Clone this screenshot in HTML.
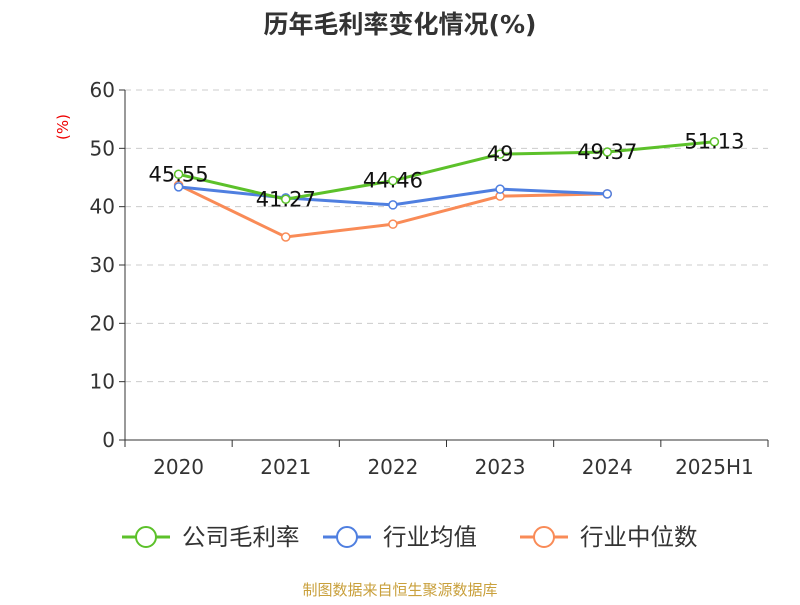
<!DOCTYPE html>
<html><head><meta charset="utf-8">
<style>
body{margin:0;background:#fff;font-family:"Liberation Sans","Noto Sans CJK SC",sans-serif;}
svg text{font-family:"DejaVu Sans","Noto Sans CJK SC",sans-serif;}
</style></head>
<body>
<svg id="chart" width="800" height="600">
<text x="400" y="33" text-anchor="middle" font-size="25" font-weight="bold" fill="#333">历年毛利率变化情况(%)</text>
<text transform="translate(68,127) rotate(-90)" text-anchor="middle" font-size="15" fill="#e00">(%)</text>
<g id="grid"></g>
<g id="axes"></g>
<g id="series"></g>
<g id="labels"></g>
<g id="legend"></g>
<text x="400" y="595" text-anchor="middle" font-size="15" fill="#c9a03c" style="font-family:'Noto Sans CJK SC',sans-serif">制图数据来自恒生聚源数据库</text>
</svg>
<script>
const categories=["2020","2021","2022","2023","2024","2025H1"];
const grossMargin=[45.55,41.27,44.46,49,49.37,51.13];
const industryAvg=[43.4,41.5,40.3,43.0,42.2,null];
const industryMedian=[43.7,34.8,37.0,41.8,42.2,null];
const yTicks=[0,10,20,30,40,50,60];
const seriesNames=["公司毛利率","行业均值","行业中位数"];
const colors=["#5cc12a","#4f7fe0","#f98b57"];

const NS="http://www.w3.org/2000/svg";
const L=125,R=768,T=90,B=440,yMax=60;
const bw=(R-L)/categories.length;
const xs=i=>L+bw*(i+0.5);
const ys=v=>B-(v/yMax)*(B-T);
function mk(tag,attrs,parent,text){const e=document.createElementNS(NS,tag);for(const k in attrs)e.setAttribute(k,attrs[k]);if(text!==undefined)e.textContent=text;parent.appendChild(e);return e;}
const grid=document.getElementById('grid'),axes=document.getElementById('axes'),ser=document.getElementById('series'),lab=document.getElementById('labels'),leg=document.getElementById('legend');
yTicks.forEach(t=>{
  const y=ys(t);
  if(t>0){const g=mk('line',{x1:L,x2:R,y1:y,y2:y,stroke:'#ccc','stroke-dasharray':'6,5'},grid);
  
  }
  const tk=mk('line',{x1:L-6,x2:L,y1:y,y2:y,stroke:'#333'},axes);
  
  
  const tx=mk('text',{x:L-10,y:y+7,'text-anchor':'end','font-size':20,fill:'#333'},axes,t);
  
  
});
const ya=mk('line',{x1:L,x2:L,y1:T,y2:B,stroke:'#333'},axes);


const xa=mk('line',{x1:L,x2:R,y1:B,y2:B,stroke:'#333'},axes);


for(let i=0;i<=categories.length;i++){
  const x=L+bw*i;
  const tk=mk('line',{x1:x,x2:x,y1:B,y2:B+7,stroke:'#333'},axes);
  
  
}
categories.forEach((c,i)=>{
  const t=mk('text',{x:xs(i),y:B+34,'text-anchor':'middle','font-size':20,fill:'#333'},axes,c);
  
  
});
function drawSeries(vals,color,name){
  const pts=vals.map((v,i)=>v==null?null:[xs(i),ys(v)]).filter(p=>p);
  const pl=mk('polyline',{points:pts.map(p=>p.join(',')).join(' '),fill:'none',stroke:color,'stroke-width':3},ser);
  
  
  pts.forEach(p=>{
    const c=mk('circle',{cx:p[0],cy:p[1],r:4,fill:'#fff',stroke:color,'stroke-width':1.5},ser);
    
    
  });
}
drawSeries(industryMedian,colors[2],'industry-median');
drawSeries(industryAvg,colors[1],'industry-average');
drawSeries(grossMargin,colors[0],'gross-margin');
grossMargin.forEach((v,i)=>{
  const t=mk('text',{x:xs(i),y:ys(v)+7,'text-anchor':'middle','font-size':21,fill:'#111'},lab,String(v));
  
  
});
const legX=[122,323,520];
seriesNames.forEach((n,i)=>{
  const g=mk('g',{},leg);
  
  
  mk('line',{x1:legX[i],x2:legX[i]+48,y1:537,y2:537,stroke:colors[i],'stroke-width':3},g);
  mk('circle',{cx:legX[i]+24,cy:537,r:10,fill:'#fff',stroke:colors[i],'stroke-width':2},g);
  mk('text',{x:legX[i]+60,y:545,'font-size':23.5,fill:'#333'},g,n);
});
</script>
</body></html>
